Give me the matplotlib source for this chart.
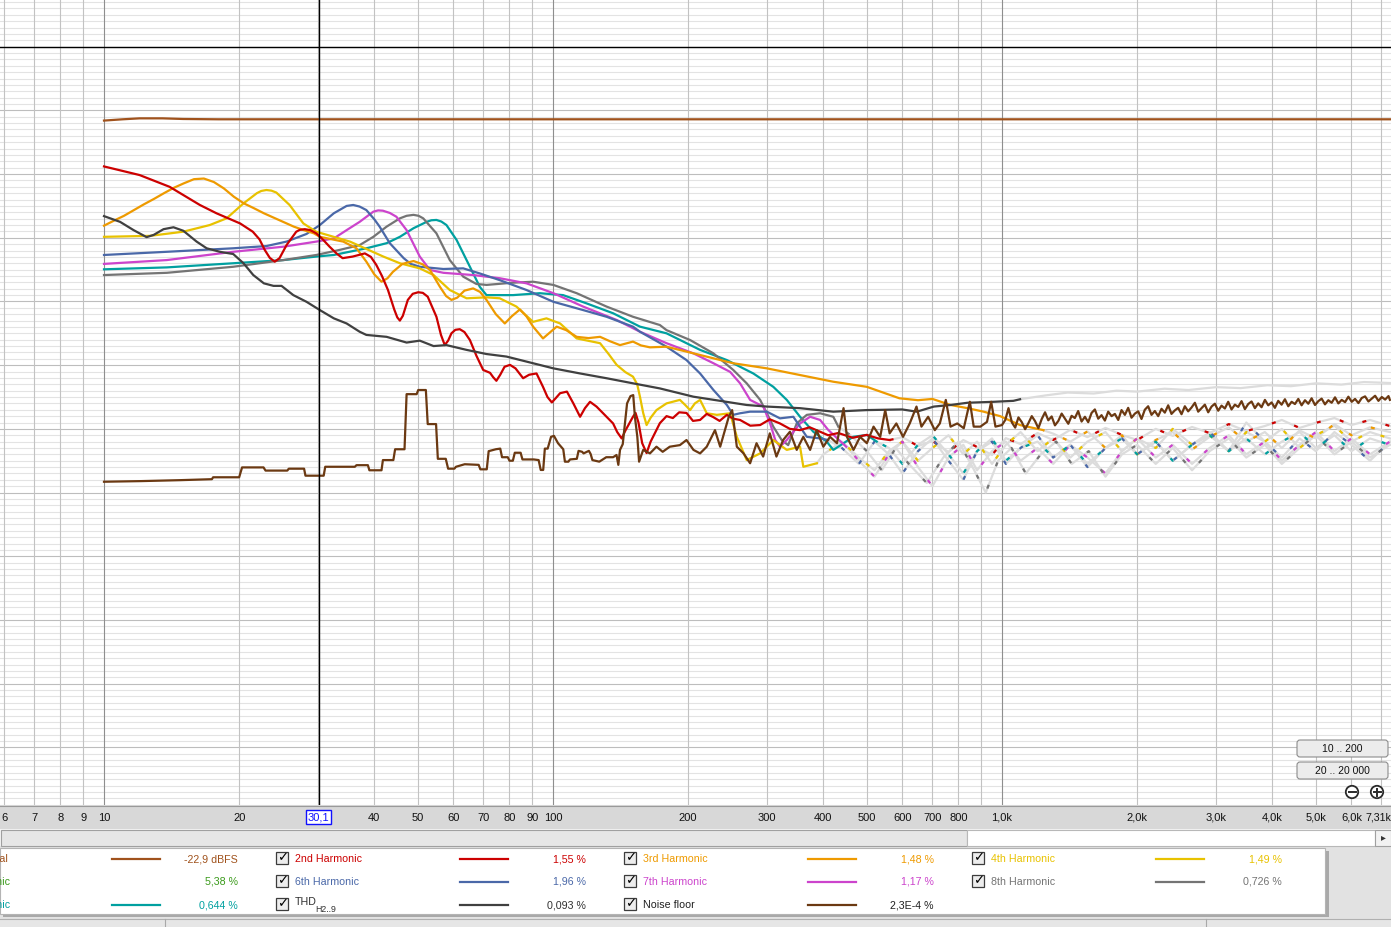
import numpy as np
import matplotlib
matplotlib.use('Agg')
import matplotlib.pyplot as plt
from matplotlib.patches import Rectangle, FancyBboxPatch, Circle
from matplotlib.lines import Line2D
from matplotlib.ticker import NullLocator

# ---------------- data (frequency Hz, level dBFS) ----------------
FUND = [(10, -23.2), (11, -22.8), (12, -22.5), (13.5, -22.5), (15, -22.7), (18, -22.8),
        (25, -22.8), (40, -22.8), (100, -22.8), (1000, -22.8), (7310, -22.8)]

H2 = [(10, -37.6), (12.0, -40.3), (14.0, -44.0), (16.35, -49.7), (17.8, -52.3), (20.1, -55.5),
      (21.45, -58.1), (22.2, -60.5), (22.8, -63.8), (23.4, -66.3), (24.0, -67.5), (24.6, -66.4),
      (25.5, -62.3), (26.8, -58.1), (27.3, -57.5), (28.0, -57.3), (28.8, -57.6), (29.7, -58.6),
      (30.7, -60.5), (31.8, -62.8), (33.0, -65.0), (34.0, -66.4), (35.8, -65.9), (38.1, -64.9),
      (39.3, -66.0), (40.4, -68.5), (41.6, -72.0), (42.9, -76.4), (44.3, -82.5), (45.0, -85.0),
      (45.6, -86.0), (46.3, -84.5), (47.5, -79.5), (48.7, -77.6), (50.1, -77.1), (51.3, -77.3),
      (52.6, -78.5), (55.0, -84.8), (56.3, -90.5), (57.4, -93.7), (58.4, -92.3), (59.4, -90.0),
      (60.6, -88.9), (62.0, -88.7), (63.5, -89.6), (65.3, -92.1), (67.5, -97.0), (69.9, -101.5),
      (72.4, -102.4), (73.6, -103.8), (74.8, -104.9), (76.3, -103.0), (78.0, -100.5),
      (80.2, -99.9), (82.5, -101.0), (85.8, -104.1), (88.5, -103.0), (91.9, -102.6),
      (95.0, -106.8), (97.2, -110.0), (99.4, -111.7), (101.5, -110.3), (103.7, -108.8),
      (107.4, -108.3), (111, -112.0), (114.9, -116.2), (117.8, -113.5), (120.9, -111.5),
      (125, -113.0), (129.3, -115.1), (136.1, -118.3), (139, -121.0), (142.2, -123.0),
      (145, -120.5), (150.7, -116.2), (152.7, -115.0), (155, -118.0), (158, -124.5),
      (161.6, -127.6), (165, -124.0), (173, -118.2), (179, -116.0), (184.9, -116.6),
      (191, -114.8), (198.3, -115.0), (205, -117.5), (212.6, -117.2), (220, -115.3),
      (227.4, -116.3), (235, -117.5), (243.9, -115.6), (252, -116.8), (261, -117.2),
      (275, -119.0), (289.3, -118.8), (304, -117.0), (320.3, -118.3), (337, -120.0),
      (355, -120.4), (373, -119.5), (393.5, -120.9), (410, -122.0), (432, -121.3), (465, -122.8),
      (499.5, -121.9), (530, -123.0), (562, -123.5)]

H3 = [(10, -56.2), (10.53, -54.6), (11.08, -53.1), (11.66, -51.3), (12.27, -49.5), (12.92, -47.8),
      (13.60, -46.0), (14.31, -44.3), (15.06, -42.9), (15.86, -41.6), (16.69, -41.4), (17.57, -42.5),
      (18.49, -44.5), (19.46, -47.1), (20.49, -49.2), (21.56, -50.7), (22.70, -52.3), (23.89, -53.7),
      (25.15, -55.1), (26.47, -56.5), (27.86, -57.6), (29.33, -58.6), (30.25, -59.7), (34.1, -61.2),
      (36.5, -63.3), (38.4, -67.5), (40.0, -71.5), (41.5, -73.8), (42.8, -72.7), (44.0, -70.7),
      (46.2, -68.2), (48.9, -67.3), (51.2, -68.3), (53.2, -70.1), (56.0, -75.4), (57.8, -78.3),
      (59.4, -79.5), (61.2, -78.8), (63.5, -76.6), (66.4, -75.9), (68.8, -77.0), (71.1, -79.5),
      (74.6, -84.0), (78.1, -86.9), (81, -84.6), (84.4, -82.5), (87.3, -84.7), (90.3, -87.9),
      (95.0, -91.6), (98.3, -89.8), (101.9, -87.9), (107, -89.0), (112.9, -91.1), (120, -91.5),
      (127.3, -91.1), (134, -92.5), (141, -93.7), (150.7, -92.6), (157, -93.8), (164.4, -94.4),
      (179, -94.2), (212.6, -96.8), (252, -99.4), (299.5, -101.0), (355, -103.1), (421, -105.2),
      (500, -106.8), (591, -110.4), (650, -111.0), (700, -110.6), (768, -112.5), (838, -113.5),
      (910, -114.6), (990, -116.0), (1097, -118.8), (1236, -120.4)]

H4 = [(10, -59.7), (12.65, -59.4), (15.0, -58.1), (17.2, -56.0), (18.75, -53.9), (20.45, -49.2),
      (21.9, -46.0), (22.4, -45.3), (23.0, -45.0), (23.6, -45.2), (24.2, -45.8), (25.9, -49.7),
      (27.8, -55.5), (29.7, -58.1), (35.3, -61.2), (41.9, -65.9), (45.6, -68.0), (50.5, -69.6),
      (54.2, -71.7), (58.9, -76.4), (64.2, -79.0), (71.1, -78.7), (76.1, -79.0), (82.9, -81.6),
      (90.3, -86.4), (96.7, -85.3), (103.7, -86.9), (112.9, -91.6), (127.3, -93.1), (133, -96.5),
      (138.6, -99.9), (145, -102.2), (150.7, -103.6), (154, -106.0), (156.2, -109.9),
      (158.8, -115.0), (161.6, -118.8), (165, -116.5), (170, -114.1), (179, -112.0),
      (191.7, -110.9), (197, -112.5), (202, -114.1), (207, -112.0), (212.6, -110.9),
      (220, -115.1), (231.7, -115.6), (248, -115.1), (256.7, -122.5), (270, -129.8),
      (289.3, -127.7), (309.5, -123.5), (331.6, -126.6), (355, -125.6), (361, -131.9),
      (387, -130.8)]

H6 = [(10, -65.4), (13.8, -64.4), (19.4, -63.3), (23.0, -62.6), (25.5, -61.2), (28.25, -58.8),
      (30.25, -56.0), (32.5, -52.3), (34.7, -50.0), (35.9, -49.7), (37.1, -50.2), (38.4, -51.3),
      (40.0, -54.2), (41.1, -56.5), (43.3, -61.7), (46.5, -66.4), (48.2, -68.2), (50.5, -69.1),
      (57.0, -69.8), (63.1, -69.6), (68.7, -71.2), (76.1, -73.3), (87.3, -76.4), (100.2, -80.1),
      (116.7, -82.7), (131.6, -84.8), (150.7, -87.9), (156.2, -89.5), (179, -94.2),
      (198.3, -98.4), (212.6, -102.6), (227.7, -107.8), (243.9, -112.5), (252, -115.6),
      (261, -115.1), (274.8, -114.6), (299.5, -114.6), (320.3, -116.7), (343, -116.2),
      (367.5, -122.5), (393.5, -123.0), (410, -123.5)]

H7 = [(10, -68.2), (13.8, -67.0), (19.4, -64.4), (25.1, -62.8), (29.7, -61.2), (32.5, -60.2),
      (34.7, -57.6), (37.1, -55.0), (39.8, -51.8), (40.8, -51.4), (41.8, -51.5), (43.3, -52.2),
      (44.8, -53.4), (47.2, -57.6), (50.5, -65.9), (53.2, -70.1), (57.0, -71.0), (66.4, -71.7),
      (76.1, -72.7), (87.3, -74.3), (100.2, -77.4), (116.7, -81.6), (138.6, -85.8), (156.2, -89.5),
      (179, -93.1), (205.5, -96.3), (227.7, -99.4), (248, -102.1), (261, -105.7), (274.8, -110.9),
      (294, -113.0), (304.5, -118.3), (312.6, -123.5), (320.3, -125.6), (331.6, -123.5),
      (355, -118.3), (373.8, -116.2), (393.5, -117.2), (410, -120.3), (449.8, -125.6)]

H8 = [(10, -71.7), (13.8, -71.0), (19.4, -69.1), (25.1, -67.0), (29.7, -65.4), (33.5, -63.8),
      (37.1, -62.3), (39.8, -59.7), (42.6, -56.5), (45.6, -53.9), (47.2, -53.1), (48.9, -52.8),
      (50.2, -53.1), (51.4, -53.9), (55.0, -58.6), (58.9, -67.0), (63.1, -72.2), (67.5, -74.5),
      (71.1, -74.8), (81.5, -74.1), (90.3, -73.8), (100.2, -74.8), (112.9, -77.4), (131.6, -81.6),
      (150.7, -84.8), (173, -87.4), (179, -89.0), (202, -92.1), (227.7, -96.3), (252, -101.5),
      (270, -105.7), (289.3, -110.9), (299.5, -115.1), (309.5, -119.3), (323, -123.5),
      (334, -125.1), (349, -118.3), (367.5, -115.6), (393.5, -115.1), (421, -116.2), (432, -119.3)]

H9 = [(10, -69.9), (13.8, -69.3), (19.4, -68.0), (25.1, -67.0), (29.7, -65.9), (32.5, -65.4),
      (38.4, -63.3), (42.6, -61.7), (45.6, -59.7), (48.9, -57.0), (52.3, -55.0), (53.6, -54.5),
      (55.0, -54.4), (56.4, -54.9), (57.9, -56.0), (61.0, -60.7), (65.3, -69.1), (68.7, -75.4),
      (71.1, -78.0), (81.5, -78.0), (93.4, -77.4), (105.3, -78.0), (118.8, -80.6), (136.1, -83.7),
      (156.2, -87.9), (179, -90.0), (212.6, -95.2), (243.9, -98.4), (279.3, -102.6), (309.5, -106.8),
      (331.6, -110.9), (355, -116.2), (380, -120.9), (407, -124.0), (421, -126.6), (432, -125.6),
      (466, -122.5), (500, -121.9), (526, -124.0)]

THD = [(10, -53.2), (10.86, -55.0), (11.64, -57.6), (12.44, -59.8), (12.9, -59.1), (13.57, -57.3),
       (14.28, -56.7), (15.02, -57.8), (16.08, -61.2), (16.93, -63.3), (18.12, -64.4), (19.4, -65.1),
       (20.45, -68.0), (21.5, -71.7), (22.7, -74.3), (23.85, -75.1), (24.85, -75.1), (26.4, -78.0),
       (28.25, -80.1), (30.25, -82.7), (32.5, -85.3), (34.7, -86.9), (37.1, -89.5), (38.4, -90.5),
       (42.6, -91.1), (47.2, -92.9), (50.5, -92.3), (54.2, -94.0), (57.9, -93.7), (64.2, -95.2),
       (71.1, -96.5), (78.8, -97.3), (90.3, -99.4), (100.2, -101.0), (114.9, -102.6),
       (131.6, -104.1), (150.7, -105.7), (173, -107.3), (205.5, -109.9), (235.7, -111.2),
       (270, -112.5), (299.5, -113.0), (355, -113.5), (421, -114.6), (500, -114.1), (599, -113.9),
       (646, -114.6), (705, -113.0), (768, -112.5), (838, -111.8), (958, -111.5), (1060, -111.2),
       (1097, -110.7)]

THD_FADED = [(1097, -110.7), (1250, -109.5), (1400, -108.6), (1600, -108.9), (1800, -108.0),
             (2000, -108.3), (2300, -107.4), (2600, -107.8), (3000, -106.9), (3400, -107.2),
             (3900, -106.3), (4400, -106.6), (5000, -105.7), (5700, -106.1), (6400, -105.3),
             (7310, -105.6)]

NOISE = [(10.0, -136.6), (12.1, -136.4), (14.8, -136.1), (17.39, -135.8), (17.5, -135.2),
         (20.0, -135.2), (20.3, -132.1), (22.66, -132.1), (22.9, -133.1), (25.6, -133.1),
         (25.8, -132.5), (27.9, -132.5), (28.1, -134.7), (30.85, -134.7), (31.1, -131.9),
         (36.2, -131.9), (36.5, -131.4), (38.7, -131.4), (39.0, -133.0), (41.5, -133.0),
         (41.8, -129.8), (44.1, -129.8), (44.5, -126.4), (46.7, -126.4), (47.2, -109.1),
         (49.7, -109.1), (50.1, -107.8), (52.1, -107.8), (52.6, -118.5), (54.9, -118.5),
         (55.4, -129.4), (57.7, -129.4), (58.4, -132.5), (60.3, -132.5), (60.8, -131.9),
         (63.6, -131.1), (68.3, -131.3), (68.9, -132.7), (71.2, -132.7), (71.9, -127.0),
         (74.6, -126.4), (76.3, -126.2), (77.0, -128.9), (79.3, -128.9), (80.0, -130.0),
         (81.4, -130.0), (82.2, -127.5), (84.7, -127.5), (85.5, -129.6), (90.6, -129.6),
         (92.9, -129.8), (93.9, -132.9), (95.1, -132.9), (95.9, -126.2), (97.3, -126.2),
         (99.0, -122.5), (100.5, -122.2), (102.6, -124.5), (105.4, -126.4), (106.3, -130.3),
         (108.2, -130.3), (109.1, -129.6), (113.0, -129.4), (114.0, -126.9), (116.1, -127.2),
         (117.0, -127.7), (120.2, -126.9), (121.3, -127.9), (122.4, -129.8), (126.8, -130.3),
         (131.4, -128.9), (136.1, -128.9), (138.5, -128.2), (139.8, -131.3), (141.0, -126.6),
         (143.0, -124.8), (146.2, -112.0), (148.8, -109.7), (150.9, -109.4), (152.2, -116.2),
         (154.1, -122.5), (155.5, -130.3), (158.8, -126.6), (164.4, -127.7), (170, -125.6),
         (175.5, -127.2), (182, -125.6), (191.7, -125.1), (198.3, -123.5), (205.5, -126.6),
         (212.6, -127.7), (220, -125.6), (229.5, -120.4), (235.7, -125.6), (246.3, -116.2),
         (250.6, -114.1), (256.7, -125.6), (265.7, -127.7), (274.8, -130.8), (284, -124.5),
         (293.8, -128.7), (304, -121.4), (314.5, -128.7), (325.5, -123.5), (337, -120.9),
         (349, -126.6), (361, -122.5), (373.8, -126.6), (386.6, -120.4), (400, -125.6),
         (414, -122.5), (429, -124.5), (443.7, -113.5), (451.5, -122.5), (467, -126.6),
         (483, -122.5), (500, -124.5), (517.5, -119.3), (535.5, -122.5), (549.4, -114.1),
         (562, -121.4), (581.7, -118.3), (602, -122.5), (623, -118.3), (645, -113.0),
         (661.6, -119.3), (684.7, -116.2), (708.6, -120.4), (727, -118.3), (749.6, -110.9),
         (768, -119.3), (795, -118.3), (822, -119.8), (848, -111.5), (865, -119.3), (895, -119.3),
         (926, -117.8), (946, -111.5), (967, -119.3),
         (1000, -118.8), (1017, -117.2), (1034, -113.5), (1052, -118.0), (1070, -119.6),
         (1088, -116.4), (1107, -117.9), (1126, -120.1), (1145, -118.2), (1165, -116.0),
         (1185, -117.6), (1205, -119.8), (1226, -116.9), (1247, -114.8), (1268, -117.3),
         (1290, -116.1), (1312, -118.9), (1335, -117.5), (1358, -115.2), (1381, -116.8),
         (1405, -118.4), (1429, -115.9), (1453, -116.6), (1478, -114.4), (1504, -117.7),
         (1530, -116.2), (1556, -117.9), (1583, -115.0), (1610, -113.9), (1638, -116.8),
         (1666, -115.7), (1695, -117.4), (1724, -114.6), (1754, -116.0), (1784, -115.3),
         (1815, -117.2), (1846, -114.1), (1878, -115.6), (1910, -113.4), (1943, -116.5),
         (1977, -115.2), (2011, -114.5), (2045, -116.9), (2080, -114.0), (2116, -112.9),
         (2153, -115.6), (2190, -114.4), (2228, -116.0), (2266, -113.7), (2305, -114.9),
         (2345, -112.6), (2385, -115.3), (2426, -114.2), (2468, -113.4), (2511, -115.4),
         (2554, -112.9), (2598, -114.5), (2643, -113.3), (2689, -111.8), (2735, -114.6),
         (2782, -113.5), (2830, -112.4), (2879, -114.8), (2929, -113.0), (2979, -112.1),
         (3031, -114.3), (3083, -112.7), (3136, -113.6), (3190, -111.5), (3245, -113.9),
         (3301, -112.4), (3358, -113.1), (3416, -111.3), (3475, -113.8), (3535, -112.2),
         (3596, -111.4), (3658, -113.5), (3721, -112.0), (3785, -113.2), (3851, -110.9),
         (3917, -112.6), (3985, -111.7), (4053, -113.4), (4123, -111.2), (4195, -112.4),
         (4267, -110.7), (4341, -112.9), (4416, -111.5), (4492, -112.2), (4570, -110.6),
         (4648, -112.6), (4729, -111.0), (4810, -112.1), (4893, -110.4), (4978, -112.5),
         (5064, -111.3), (5151, -110.5), (5240, -112.3), (5331, -111.0), (5423, -111.8),
         (5517, -110.1), (5612, -112.0), (5709, -110.9), (5808, -111.6), (5908, -109.9),
         (6010, -111.5), (6114, -110.6), (6220, -111.9), (6327, -110.3), (6437, -109.8),
         (6548, -111.4), (6661, -110.5), (6776, -109.6), (6893, -111.2), (7013, -110.0),
         (7134, -110.8), (7257, -109.7), (7310, -110.9)]

# faded (grey) continuation of each harmonic above its valid range
H2_FADED = [(562, -123.5), (600, -122.6), (650, -125.4), (700, -123.8), (760, -127.3), (820, -123.5),
            (880, -125.7), (950, -128.2), (1020, -122.9), (1100, -124.8), (1200, -121.3),
            (1300, -123.5), (1420, -120.3), (1550, -122.6), (1700, -119.7), (1850, -121.9),
            (2000, -123.5), (2200, -120.0), (2400, -122.2), (2650, -119.4), (2900, -121.3),
            (3200, -118.5), (3500, -120.7), (3850, -119.1), (4200, -117.2), (4600, -119.7),
            (5000, -118.1), (5500, -116.6), (6000, -118.8), (6600, -117.2), (7310, -119.1)]
H3_FADED = [(1236, -120.4), (1300, -121.5), (1420, -124.0), (1550, -120.8), (1700, -126.0),
            (1850, -122.0), (2000, -128.0), (2200, -123.5), (2400, -121.0), (2650, -126.5),
            (2900, -122.5), (3200, -119.5), (3500, -124.0), (3850, -121.0), (4200, -126.0),
            (4600, -120.5), (5000, -123.0), (5500, -118.5), (6000, -122.0), (6600, -119.5),
            (7310, -121.0)]
H4_FADED = [(387, -130.8), (400, -128), (440, -124), (480, -129), (520, -133), (560, -127), (600, -124),
            (650, -130), (700, -126), (760, -122), (820, -128), (880, -124), (950, -131), (1020, -125),
            (1100, -121), (1200, -127), (1300, -123), (1420, -129), (1550, -124), (1700, -121),
            (1850, -127), (2000, -123), (2200, -126), (2400, -120), (2650, -125), (2900, -122),
            (3200, -127), (3500, -121), (3850, -124), (4200, -120), (4600, -126), (5000, -122),
            (5500, -119), (6000, -124), (6600, -121), (7310, -123)]
H6_FADED = [(410, -123.5), (440, -126), (480, -131), (520, -124), (560, -128), (600, -134), (650, -127),
            (700, -123), (760, -130), (820, -136), (880, -127), (950, -124), (1020, -131), (1100, -126),
            (1200, -122), (1300, -129), (1420, -125), (1550, -132), (1700, -126), (1850, -123),
            (2000, -128), (2200, -124), (2400, -130), (2650, -125), (2900, -121), (3200, -127),
            (3500, -118), (3850, -124), (4200, -129), (4600, -123), (5000, -127), (5500, -121),
            (6000, -125), (6600, -130), (7310, -124)]
H7_FADED = [(449.8, -125.6), (480, -130), (520, -135), (560, -128), (600, -124), (650, -132), (700, -138),
            (760, -129), (820, -125), (880, -133), (950, -127), (1020, -124), (1100, -130), (1200, -126),
            (1300, -131), (1420, -125), (1550, -129), (1700, -134), (1850, -127), (2000, -123),
            (2200, -129), (2400, -125), (2650, -131), (2900, -126), (3200, -122), (3500, -128),
            (3850, -124), (4200, -130), (4600, -125), (5000, -121), (5500, -127), (6000, -123),
            (6600, -128), (7310, -124)]
H8_FADED = [(432, -119.3), (460, -122), (500, -127), (540, -133), (580, -126), (620, -131), (680, -137),
            (740, -129), (800, -124), (860, -132), (920, -140), (980, -130), (1050, -126), (1130, -134),
            (1220, -128), (1320, -124), (1430, -131), (1560, -127), (1700, -135), (1850, -128),
            (2000, -125), (2200, -131), (2400, -126), (2650, -133), (2900, -127), (3200, -123),
            (3500, -129), (3850, -125), (4200, -131), (4600, -126), (5000, -122), (5500, -128),
            (6000, -124), (6600, -129), (7310, -125)]
H9_FADED = [(526, -124), (560, -126), (600, -131), (650, -125), (700, -122), (760, -128), (820, -134),
            (880, -127), (950, -123), (1020, -130), (1100, -126), (1200, -124), (1300, -129),
            (1420, -125), (1550, -131), (1700, -126), (1850, -123), (2000, -128), (2200, -124),
            (2400, -130), (2650, -125), (2900, -122), (3200, -127), (3500, -123), (3850, -128),
            (4200, -124), (4600, -121), (5000, -126), (5500, -122), (6000, -127), (6600, -123),
            (7310, -125)]

CURSOR_F = 30.1
CURSOR_DB = 0.0

TICK_F = [6, 7, 8, 9, 10, 20, 40, 50, 60, 70, 80, 90, 100, 200, 300, 400, 500, 600, 700, 800,
          1000, 2000, 3000, 4000, 5000, 6000]
TICK_LABELS = ['6', '7', '8', '9', '10', '20', '40', '50', '60', '70', '80', '90', '100', '200',
               '300', '400', '500', '600', '700', '800', '1,0k', '2,0k', '3,0k', '4,0k', '5,0k', '6,0k']

LEG_LABELS = [['Fundamental', '5th Harmonic', '9th Harmonic'],
              ['2nd Harmonic', '6th Harmonic', 'THD'],
              ['3rd Harmonic', '7th Harmonic', 'Noise floor'],
              ['4th Harmonic', '8th Harmonic', None]]
LEG_VALUES = [['-22,9 dBFS', '5,38 %', '0,644 %'],
              ['1,55 %', '1,96 %', '0,093 %'],
              ['1,48 %', '1,17 %', '2,3E-4 %'],
              ['1,49 %', '0,726 %', None]]

# ---------------- styles ----------------
C_FUND = '#a0521c'
C_H2 = '#cc0000'
C_H3 = '#ee9a00'
C_H4 = '#e8c200'
C_H5 = '#3a9a1a'
C_H6 = '#4a68a8'
C_H7 = '#cc44cc'
C_H8 = '#747474'
C_H9 = '#00a0a0'
C_THD = '#404040'
C_NOISE = '#6b3912'
C_FADED = '#dcdcdc'
LEG_COLORS = [[C_FUND, C_H5, C_H9], [C_H2, C_H6, C_THD], [C_H3, C_H7, C_NOISE], [C_H4, C_H8, None]]
LEG_TEXT = [[C_FUND, C_H5, C_H9], [C_H2, C_H6, '#303030'], [C_H3, C_H7, '#202020'], [C_H4, C_H8, None]]
LEG_HAS_LINE = [[True, False, True], [True, True, True], [True, True, True], [True, True, False]]

W, H = 1391, 927
fig = plt.figure(figsize=(W / 100, H / 100), dpi=100)
fig.patch.set_facecolor('#e2e2e2')
plt.rcParams['font.family'] = ['Liberation Sans', 'DejaVu Sans']

ax = fig.add_axes([0, 1 - 805 / H, 1, 805 / H])
ax.set_facecolor('white')
ax.set_xscale('log')
ax.set_xlim(10 ** (1 - 104 / 449), 10 ** (1 + 1287 / 449))
ax.set_ylim(-238.1, 14.66)
for s in ax.spines.values():
    s.set_visible(False)
ax.set_yticks([])
ax.xaxis.set_minor_locator(NullLocator())
ax.set_xticks(TICK_F)
ax.set_xticklabels(TICK_LABELS)
ax.tick_params(axis='x', length=0, pad=5.5, labelsize=8, labelcolor='#111111')

# grid
for yv in range(-238, 15, 2):
    if yv % 20 == 0:
        ax.axhline(yv, color='#bdbdbd', lw=0.8, zorder=0.6)
    else:
        ax.axhline(yv, color='#e3e3e3', lw=0.8, zorder=0.5)
for dec in [1, 10, 100, 1000]:
    for m in range(1, 10):
        fv = dec * m
        if fv < 6 or fv > 7300:
            continue
        if m == 1:
            ax.axvline(fv, color='#8e8e8e', lw=0.8, zorder=0.8)
        else:
            ax.axvline(fv, color='#c2c2c2', lw=0.8, zorder=0.7)


def xy(series):
    a = np.array(series, dtype=float)
    return a[:, 0], a[:, 1]


LW = 1.6
faded = [(H2_FADED, C_H2), (H3_FADED, C_H3), (H4_FADED, C_H4), (H6_FADED, C_H6),
         (H7_FADED, C_H7), (H8_FADED, C_H8), (H9_FADED, C_H9)]
for ser, c in faded:
    f, d = xy(ser)
    ax.plot(f, d, color=C_FADED, lw=LW, zorder=2, solid_joinstyle='round')
for k, (ser, c) in enumerate(faded):
    f, d = xy(ser)
    ax.plot(f, d, color=c, lw=LW, zorder=3, ls=(k * 1.3, (1.8, 9)))
f, d = xy(THD_FADED)
ax.plot(f, d, color=C_FADED, lw=LW, zorder=2)

for ser, c in [(H9, C_H9), (H8, C_H8), (H7, C_H7), (H6, C_H6), (H4, C_H4), (H3, C_H3), (H2, C_H2)]:
    f, d = xy(ser)
    ax.plot(f, d, color=c, lw=LW, zorder=4, solid_joinstyle='round')
f, d = xy(THD)
ax.plot(f, d, color=C_THD, lw=LW, zorder=4, solid_joinstyle='round')
f, d = xy(NOISE)
ax.plot(f, d, color=C_NOISE, lw=LW, zorder=5)
f, d = xy(FUND)
ax.plot(f, d, color=C_FUND, lw=LW, zorder=5)

ax.axvline(CURSOR_F, color='black', lw=1.0, zorder=10)
ax.axhline(CURSOR_DB, color='black', lw=1.0, zorder=10)

T = fig.dpi_scale_trans


def rect(x0, y0, x1, y1, z=1, **kw):
    p = Rectangle((x0 / 100, (H - y1) / 100), (x1 - x0) / 100, (y1 - y0) / 100, transform=T, zorder=z, **kw)
    fig.add_artist(p)
    return p


def text(x, y, s, **kw):
    kw.setdefault('fontsize', 7.7)
    kw.setdefault('va', 'center')
    fig.text(x / 100, (H - y) / 100, s, transform=T, **kw)


def hline(x0, x1, y, color, lw=1.0, z=3):
    fig.add_artist(Line2D([x0 / 100, x1 / 100], [(H - y) / 100] * 2, transform=T, color=color, lw=lw, zorder=z))


# x-axis strip and scrollbar
rect(0, 805, W, 829, z=-1, fc='#d8d8d8', ec='none')
hline(0, W, 805.5, '#9a9a9a', lw=0.8, z=-0.5)
text(1391, 817, '7,31k', ha='right', fontsize=7.7, color='#111111', zorder=2)
rect(0, 829, W, 846, z=1, fc='#f4f4f4', ec='none')
rect(0.5, 829.5, 967, 845.5, z=1.1, fc='#e6e6e6', ec='#a0a0a0', lw=0.8)
rect(967, 829.5, 1375, 845.5, z=1.1, fc='white', ec='#b8b8b8', lw=0.8)
rect(1375, 829.5, 1390.5, 845.5, z=1.1, fc='#f2f2f2', ec='#a0a0a0', lw=0.8)
text(1383, 837.5, '\u25B8', fontsize=7, ha='center', color='#333333', family='DejaVu Sans', zorder=2)
# cursor label
text(318.5, 817, '30,1', ha='center', fontsize=8, color='#1010ff', zorder=5,
     bbox=dict(boxstyle='square,pad=0.18', fc='white', ec='#1010ff', lw=1.0))

# buttons
for (y0, y1, lab) in [(740, 757, '10 .. 200'), (762, 779, '20 .. 20 000')]:
    b = FancyBboxPatch((1297 / 100, (H - y1) / 100), 91 / 100, (y1 - y0) / 100,
                       boxstyle='round,pad=0,rounding_size=0.03', transform=T,
                       fc='#ececec', ec='#8c8c8c', lw=0.8, zorder=6)
    fig.add_artist(b)
    text(1342.5, (y0 + y1) / 2, lab, ha='center', fontsize=7.5, color='#111111', zorder=7)
for cx, plus in [(1352, False), (1377, True)]:
    c = Circle((cx / 100, (H - 792) / 100), 0.062, transform=T, fc='white', ec='#2a2a2a', lw=1.3, zorder=6)
    fig.add_artist(c)
    hline(cx - 3.5, cx + 3.5, 792, '#2a2a2a', lw=1.4, z=7)
    if plus:
        fig.add_artist(Line2D([cx / 100] * 2, [(H - 795.5) / 100, (H - 788.5) / 100], transform=T,
                              color='#2a2a2a', lw=1.4, zorder=7))

# legend panel
rect(3, 851, 1329, 917, z=1, fc='#a9a9a9', ec='none')
rect(0, 848, 1325, 914, z=1.1, fc='white', ec='#b4b4b4', lw=0.8)
rect(0, 919, W, H, z=1, fc='#e6e6e6', ec='none')
hline(0, W, 919, '#b0b0b0', lw=0.8, z=1.2)
fig.add_artist(Line2D([165 / 100] * 2, [0, (H - 919) / 100], transform=T, color='#a8a8a8', lw=0.8, zorder=1.2))
fig.add_artist(Line2D([1206 / 100] * 2, [0, (H - 919) / 100], transform=T, color='#a8a8a8', lw=0.8, zorder=1.2))

ROW_Y = [859, 882, 905]
COL_BOX = [None, 276, 624, 972]
COL_LINE = [(112, 160), (460, 508), (808, 856), (1156, 1204)]
COL_VAL = [238, 586, 934, 1282]
for ci in range(4):
    for ri in range(3):
        lab = LEG_LABELS[ci][ri]
        if lab is None:
            continue
        y = ROW_Y[ri]
        tc = LEG_TEXT[ci][ri]
        if ci == 0:
            text(8.5 if ri == 0 else 10, y, lab, ha='right', color=tc, zorder=3)
        else:
            bx = COL_BOX[ci]
            rect(bx, y - 7, bx + 12, y + 5, z=3, fc='#ededed', ec='#3c3c3c', lw=0.9)
            text(bx + 6.3, y - 1.2, '\u2713', ha='center', fontsize=9.5, color='black',
                 family='DejaVu Sans', weight='bold', zorder=4)
            if lab == 'THD':
                text(bx + 19, y - 3, 'THD', ha='left', color=tc, zorder=3)
                text(bx + 39, y + 5, 'H2..9', ha='left', color=tc, fontsize=6.3, zorder=3)
            else:
                text(bx + 19, y, lab, ha='left', color=tc, zorder=3)
        if LEG_HAS_LINE[ci][ri]:
            x0, x1 = COL_LINE[ci]
            hline(x0, x1, y, LEG_COLORS[ci][ri], lw=1.6, z=3)
        text(COL_VAL[ci], y, LEG_VALUES[ci][ri], ha='right', color=tc, zorder=3)

fig.savefig('out.png', dpi=100, facecolor=fig.get_facecolor())
